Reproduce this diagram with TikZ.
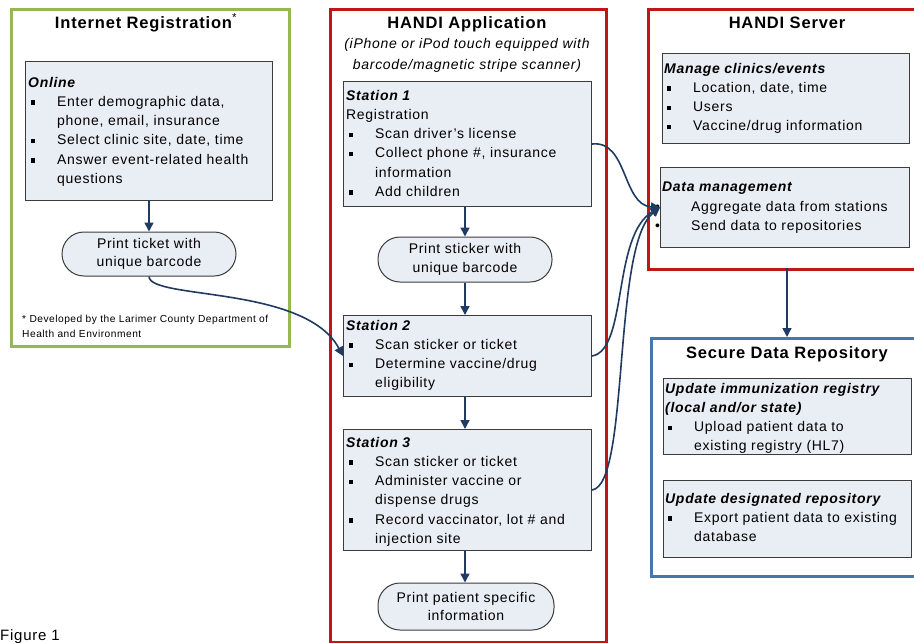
\documentclass[tikz,border=0pt]{standalone}
\usepackage{fontspec}
\setmainfont{Liberation Sans}[LetterSpace=5]
\usetikzlibrary{arrows.meta}
\definecolor{gfr}{RGB}{150,183,86}
\definecolor{rfr}{RGB}{192,22,22}
\definecolor{bfr}{RGB}{72,116,176}
\definecolor{ifill}{RGB}{233,237,244}
\definecolor{arr}{RGB}{33,58,98}
\definecolor{iline}{RGB}{60,60,60}
\newcommand\bi{\hspace*{2.5pt}\makebox[26.5pt][l]{\rule[1.6pt]{4.6pt}{4.6pt}}}
\newcommand\ci{\hspace*{29pt}}
\newcommand\di{\makebox[29pt][l]{\hspace*{-7pt}•}}
\begin{document}
\begin{tikzpicture}[x=1pt,y=-1pt,
  frame/.style={draw, line width=3pt, anchor=north west, inner sep=0pt},
  ibox/.style={draw=iline, fill=ifill, line width=1pt, anchor=north west, inner sep=0pt},
  stad/.style={draw=iline, fill=ifill, line width=1pt, rounded corners=22pt, inner sep=0pt, align=center, font=\fontsize{14}{18.5}\selectfont},
  itext/.style={anchor=north west, inner sep=0pt, align=left, font=\fontsize{14}{19.2}\selectfont},
  ttl/.style={anchor=base, inner sep=0pt, font=\fontsize{16.5}{19}\selectfont\bfseries},
  conn/.style={draw=arr, line width=1.6pt, -{Triangle[length=9pt,width=9pt]}},
]
\useasboundingbox (0,0) rectangle (914,643);
\fill[white] (0,0) rectangle (914,643);

% frames
\node[frame, draw=gfr, minimum width=278, minimum height=337] (inet) at (10,8) {};
\node[frame, draw=rfr, minimum width=276, minimum height=633] (app) at (329,8) {};
\node[frame, draw=rfr, minimum width=273, minimum height=260] (server) at (647,8) {};
\node[frame, draw=bfr, minimum width=270, minimum height=238] (repo) at (650,337) {};

% titles
\node[ttl] (t1) at (146,28) {Internet Registration\textsuperscript{\normalfont*}};
\node[ttl] (t2) at (467,28) {HANDI Application};
\node[anchor=base, inner sep=0pt, align=center, font=\fontsize{14}{21}\selectfont\itshape] (t2b) at (467,69) {(iPhone or iPod touch equipped with\\barcode/magnetic stripe scanner)};
\node[ttl] (t3) at (787,28) {HANDI Server};
\node[ttl] (t4) at (787,358) {Secure Data Repository};

% inner boxes
\node[ibox, minimum width=247, minimum height=139] (online) at (25,61) {};
\node[itext] (onlinet) at (28,77) {\textbf{\textit{Online}}\\
\bi Enter demographic data,\\
\ci phone, email, insurance\\
\bi Select clinic site, date, time\\
\bi Answer event-related health\\
\ci questions};

\node[stad, minimum width=174, minimum height=44] (ticket) at (149,254) {Print ticket with\\unique barcode};

\node[anchor=north west, inner sep=0pt, align=left, font=\fontsize{10.2}{15}\selectfont] (foot) at (22,315) {* Developed by the Larimer County Department of\\Health and Environment};

\node[ibox, minimum width=248, minimum height=125] (st1) at (343,81) {};
\node[itext] (st1t) at (346,90) {\textbf{\textit{Station 1}}\\
Registration\\
\bi Scan driver's license\\
\bi Collect phone \#, insurance\\
\ci information\\
\bi Add children};

\node[stad, minimum width=174, minimum height=45] (sticker) at (465,259.5) {Print sticker with\\unique barcode};

\node[ibox, minimum width=248, minimum height=81] (st2) at (343,315) {};
\node[itext] (st2t) at (346,320) {\textbf{\textit{Station 2}}\\
\bi Scan sticker or ticket\\
\bi Determine vaccine/drug\\
\ci eligibility};

\node[ibox, minimum width=248, minimum height=121] (st3) at (343,429) {};
\node[itext] (st3t) at (346,437) {\textbf{\textit{Station 3}}\\
\bi Scan sticker or ticket\\
\bi Administer vaccine or\\
\ci dispense drugs\\
\bi Record vaccinator, lot \# and\\
\ci injection site};

\node[stad, minimum width=176, minimum height=47] (patient) at (466,606.5) {Print patient specific\\information};

\node[ibox, minimum width=247, minimum height=90] (manage) at (662,53) {};
\node[itext] (managet) at (664,63) {\textbf{\textit{Manage clinics/events}}\\
\bi Location, date, time\\
\bi Users\\
\bi Vaccine/drug information};

\node[ibox, minimum width=249, minimum height=80] (datam) at (660,167) {};
\node[itext] (datamt) at (662,182) {\textbf{\textit{Data management}}\\
\di Aggregate data from stations\\
\di Send data to repositories};

\node[ibox, minimum width=248, minimum height=76] (immun) at (663,378) {};
\node[itext] (immunt) at (665,383) {\textbf{\textit{Update immunization registry}}\\
\textbf{\textit{(local and/or state)}}\\
\bi Upload patient data to\\
\ci existing registry (HL7)};

\node[ibox, minimum width=248, minimum height=77] (desig) at (663,480) {};
\node[itext] (desigt) at (665,493) {\textbf{\textit{Update designated repository}}\\
\bi Export patient data to existing\\
\ci database};

\node[anchor=base west, inner sep=0pt, font=\fontsize{15}{18}\selectfont] (fig) at (0,640) {Figure 1};

% connectors
\draw[conn] (ticket.north |- online.south) -- (ticket.north);
\draw[conn] (sticker.north |- st1.south) -- (sticker.north);
\draw[conn] (sticker.south) -- (sticker.south |- st2.north);
\draw[conn] (sticker.south |- st2.south) -- (sticker.south |- st3.north);
\draw[conn] (sticker.south |- st3.south) -- (sticker.south |- patient.north);
\coordinate (svb) at (787,268);
\draw[conn] (svb) -- (svb |- repo.north);
\draw[conn] (ticket.south) .. controls (150,300) and (305,285) .. (st2.west);
\draw[conn] (st1.east) .. controls (628,140) and (622,205) .. (datam.west);
\draw[conn] (st2.east) .. controls (628,350) and (612,235) .. (datam.west);
\draw[conn] (st3.east) .. controls (630,485) and (612,245) .. (datam.west);
\end{tikzpicture}
\end{document}
